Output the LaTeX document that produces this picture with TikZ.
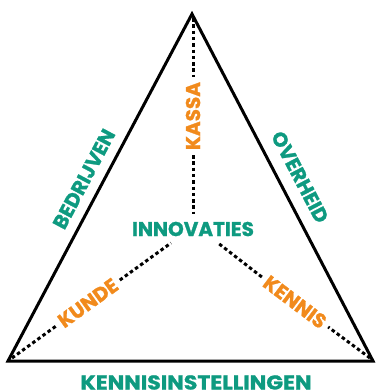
\documentclass[tikz,border=0pt]{standalone}
\usepackage{fontspec}
\setmainfont{Poppins}[BoldFeatures={FakeBold=1.2}]
\definecolor{teal1}{HTML}{0E9A80}
\definecolor{orange1}{HTML}{F18A1C}
\begin{document}
\begin{tikzpicture}[x=1pt,y=-1pt,
  edge/.style={line width=3pt,line join=miter},
  dots/.style={line width=3pt,dash pattern=on 3.5pt off 2.8pt},
  tlabel/.style={text=teal1,font=\fontsize{20}{20}\selectfont\bfseries,inner sep=0pt},
  olabel/.style={text=orange1,font=\fontsize{20}{20}\selectfont\bfseries,inner sep=0pt,outer sep=5pt}]
\useasboundingbox (0,0) rectangle (375,391);
\coordinate (A) at (192,14);
\coordinate (L) at (8,361);
\coordinate (R) at (373,361);
\coordinate (Ae) at (193,18);
\coordinate (Le) at (12,358);
\coordinate (Re) at (370,358);
\coordinate (Ci) at (193,214);
\coordinate (Cl) at (171,243);
\coordinate (Cr) at (218,243);
\draw[edge] (A) -- (L) -- (R) -- cycle;
\node[tlabel] (inn) at (193,229) {INNOVATIES};
\node[olabel,rotate=90] (kassa) at (193,116) {KASSA};
\node[olabel,rotate=35.8] (kunde) at (88,303) {KUNDE};
\node[olabel,rotate=-37] (kennis) at (295,302) {KENNIS};
\node[tlabel,rotate=62] (bed) at (84,179) {BEDRIJVEN};
\node[tlabel,rotate=-62.4] (ove) at (300,177) {OVERHEID};
\node[tlabel,anchor=base] (ki) at (196,389.5) {\scalebox{1.1}[1]{KENNISINSTELLINGEN}};
\draw[dots] (Ae) -- (kassa.east);
\draw[dots] (kassa.west) -- (Ci);
\draw[dots] (Le) -- (kunde.west);
\draw[dots] (kunde.east) -- (Cl);
\draw[dots] (Re) -- (kennis.east);
\draw[dots] (kennis.west) -- (Cr);
\end{tikzpicture}
\end{document}
